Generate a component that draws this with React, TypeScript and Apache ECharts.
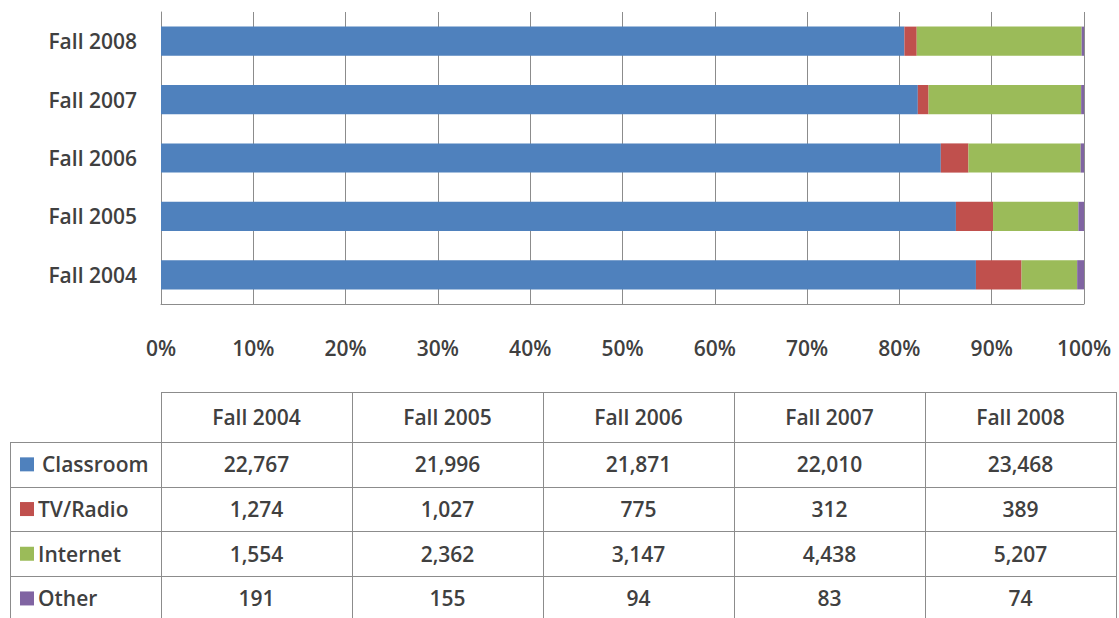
import React, { useEffect, useRef } from "react";
import * as echarts from "echarts";

const categories = ["Fall 2004", "Fall 2005", "Fall 2006", "Fall 2007", "Fall 2008"];
const seriesNames = ["Classroom", "TV/Radio", "Internet", "Other"];
const classroom = [22767, 21996, 21871, 22010, 23468];
const tvRadio = [1274, 1027, 775, 312, 389];
const internet = [1554, 2362, 3147, 4438, 5207];
const other = [191, 155, 94, 83, 74];
const xTicks = [0, 10, 20, 30, 40, 50, 60, 70, 80, 90, 100];
const colors = ["#4F81BD", "#C0504D", "#9BBB59", "#8064A2"];

const FONT = "'Open Sans', 'Noto Sans', sans-serif";
const TEXT = "#404040";
const LINE = "#8c8c8c";

export default function App() {
  const ref = useRef<HTMLDivElement>(null);
  useEffect(() => {
    document.body.style.margin = "0";
    const chart = echarts.init(ref.current!, null, { renderer: "svg" });
    const raw = [classroom, tvRadio, internet, other];
    const totals = categories.map((_, i) => raw.reduce((s, arr) => s + arr[i], 0));
    const pct = raw.map((arr) => arr.map((v, i) => (v / totals[i]) * 100));

    // table layout
    const colX = [161, 352, 543, 734, 925, 1116];
    const labelLeft = 10;
    const headerTop = 392;
    const rowY = [442, 486.7, 531.4, 576.1, 620.8];
    const graphics: any[] = [];
    const ln = (x1: number, y1: number, x2: number, y2: number) => ({
      type: "line",
      shape: { x1, y1, x2, y2 },
      style: { stroke: LINE, lineWidth: 1 },
      silent: true,
    });
    graphics.push(ln(colX[0], headerTop + 0.5, colX[5], headerTop + 0.5));
    rowY.forEach((y) => graphics.push(ln(labelLeft, Math.round(y) + 0.5, colX[5], Math.round(y) + 0.5)));
    graphics.push(ln(labelLeft + 0.5, rowY[0], labelLeft + 0.5, rowY[4]));
    colX.forEach((x) => graphics.push(ln(x + 0.5, headerTop, x + 0.5, rowY[4])));
    const font = `600 21px ${FONT}`;
    // header texts
    categories.forEach((c, i) => {
      graphics.push({
        type: "text",
        x: (colX[i] + colX[i + 1]) / 2,
        y: (headerTop + rowY[0]) / 2,
        style: { text: c, fill: TEXT, font, align: "center", verticalAlign: "middle" },
      });
    });
    // rows
    seriesNames.forEach((name, r) => {
      const cy = (rowY[r] + rowY[r + 1]) / 2;
      graphics.push({
        type: "rect",
        shape: { x: 20, y: cy - 7, width: 14, height: 14 },
        style: { fill: colors[r] },
      });
      graphics.push({
        type: "text",
        x: r === 0 ? 42 : 38,
        y: cy,
        style: { text: name, fill: TEXT, font, align: "left", verticalAlign: "middle" },
      });
      raw[r].forEach((v, i) => {
        graphics.push({
          type: "text",
          x: (colX[i] + colX[i + 1]) / 2,
          y: cy,
          style: {
            text: v.toLocaleString("en-US"),
            fill: TEXT,
            font,
            align: "center",
            verticalAlign: "middle",
          },
        });
      });
    });

    chart.setOption({
      animation: false,
      grid: { left: 161, top: 12, width: 923, height: 292, containLabel: false },
      xAxis: {
        type: "value",
        min: xTicks[0],
        max: xTicks[xTicks.length - 1],
        interval: 10,
        axisLine: { show: true, lineStyle: { color: LINE, width: 1 } },
        axisTick: { show: false },
        splitLine: { show: true, lineStyle: { color: LINE, width: 1 } },
        axisLabel: {
          formatter: "{value}%",
          margin: 33,
          color: TEXT,
          fontSize: 21,
          fontWeight: 600,
          fontFamily: FONT,
        },
      },
      yAxis: {
        type: "category",
        data: categories,
        axisLine: { show: true, lineStyle: { color: LINE, width: 1 } },
        axisTick: { show: false },
        axisLabel: { margin: 24, color: TEXT, fontSize: 21, fontWeight: 600, fontFamily: FONT },
      },
      series: seriesNames.map((name, s) => ({
        name,
        type: "bar",
        stack: "total",
        barWidth: "50%",
        data: pct[s],
        itemStyle: { color: colors[s] },
      })),
      graphic: graphics,
    });
    return () => chart.dispose();
  }, []);
  return <div ref={ref} style={{ width: 1119, height: 618 }} />;
}
